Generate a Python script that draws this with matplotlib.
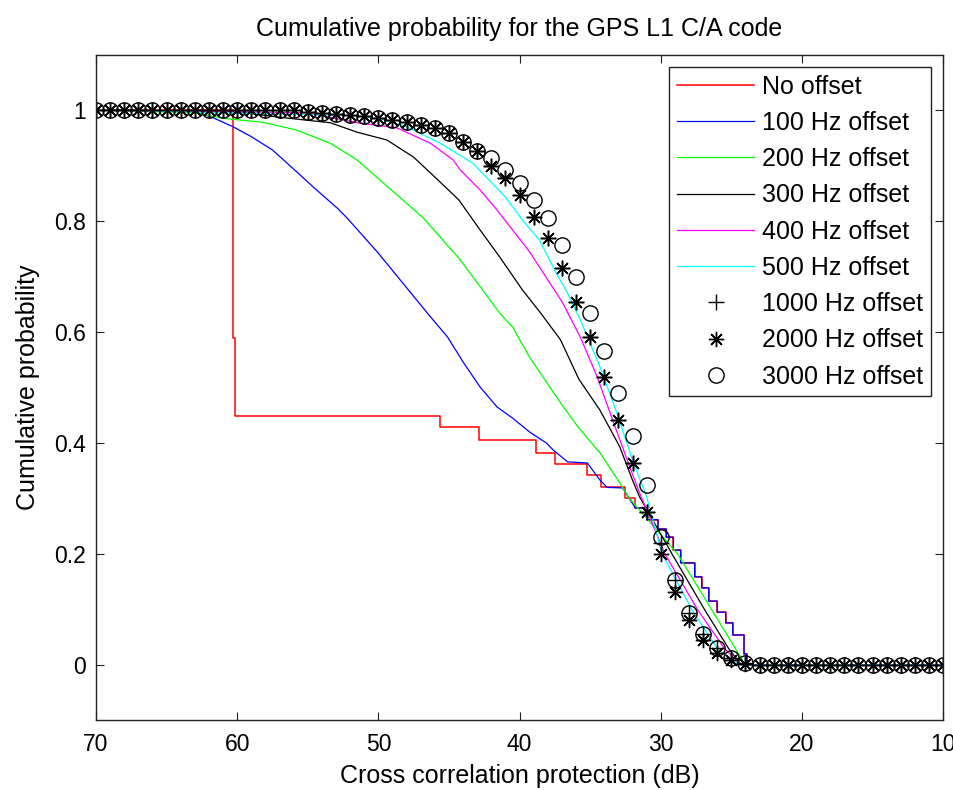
import numpy as np
import matplotlib
matplotlib.use('Agg')
import matplotlib.pyplot as plt

plt.rcParams['font.family'] = ['Liberation Sans', 'DejaVu Sans']

# no offset: staircase, each level holds from its dB value down to the next one
red_db = [70, 60.3, 60.15, 45.6, 42.9, 38.8, 37.5, 35.2, 34.2, 32.5, 31.8, 31.0,
          30.2, 29.6, 29.1, 28.6, 27.6, 27.1, 26.6, 26.0, 25.4, 24.9, 24.1, 23.9, 10]
red_p = [1.0, 0.589, 0.449, 0.428, 0.405, 0.382, 0.362, 0.342, 0.32, 0.30, 0.283, 0.262,
         0.245, 0.23, 0.207, 0.184, 0.159, 0.139, 0.115, 0.095, 0.076, 0.054, 0.02, 0.0, 0.0]

# 100 Hz: smooth part, the tail below 32 dB follows the same steps as the red one
blue_db = [70, 63, 61.7, 60.3, 59, 57.5, 55.8, 54.6, 52.9, 52.2, 50, 47.3, 46.3, 45.1, 44.0,
           42.8, 41.6, 40.5, 39.3, 38.1, 37.6, 36.6, 35.2, 34.3, 33.8, 32.7, 32.3]
blue_p = [1.0, 0.998, 0.986, 0.97, 0.952, 0.928, 0.889, 0.861, 0.823, 0.805, 0.742, 0.658,
          0.627, 0.591, 0.546, 0.501, 0.465, 0.445, 0.42, 0.40, 0.387, 0.366, 0.364, 0.333,
          0.32, 0.319, 0.303]

green_db = [70, 63, 61, 58.2, 55.8, 53.4, 51.5, 49.9, 48.0, 46.8, 44.2, 42.1, 41.4, 40.5,
            39.3, 38.1, 36.9, 35.8, 34.3, 32.9, 32.3, 30.0, 28.8, 26.4, 24.6, 24.0, 10]
green_p = [1.0, 0.995, 0.985, 0.978, 0.964, 0.94, 0.91, 0.874, 0.832, 0.805, 0.73, 0.658,
           0.634, 0.609, 0.555, 0.51, 0.465, 0.427, 0.382, 0.328, 0.303, 0.235, 0.2, 0.1,
           0.025, 0.0, 0.0]

black_db = [70, 60, 57, 53.4, 51.5, 49.4, 47.5, 45.7, 44.3, 42.8, 41.4, 39.8, 38.5, 37.1,
            35.8, 34.3, 32.9, 32.0, 31.5, 29.2, 26.9, 25.2, 24.3, 10]
black_p = [1.0, 0.997, 0.987, 0.977, 0.96, 0.946, 0.915, 0.872, 0.838, 0.784, 0.735, 0.676,
           0.634, 0.586, 0.515, 0.459, 0.393, 0.333, 0.303, 0.2, 0.1, 0.03, 0.0, 0.0]

magenta_db = [70, 55, 51.5, 48.7, 46.3, 44.7, 44.2, 42.8, 41.6, 40.5, 39.3, 38.0, 37.0,
              35.7, 34.5, 33.4, 32.2, 31.5, 29.7, 27.4, 25.5, 24.5, 24.2, 10]
magenta_p = [1.0, 0.995, 0.977, 0.968, 0.94, 0.91, 0.892, 0.856, 0.82, 0.784, 0.745, 0.694,
             0.655, 0.591, 0.519, 0.441, 0.357, 0.31, 0.2, 0.1, 0.03, 0.005, 0.0, 0.0]

cyan_db = [70, 52, 50, 48, 45.6, 43.3, 41.0, 39.8, 38.6, 37.4, 36.6, 35.7, 34.3, 33.1,
           32.0, 31.0, 29.9, 27.8, 26.0, 25.0, 24.3, 10]
cyan_p = [1.0, 0.99, 0.985, 0.97, 0.94, 0.904, 0.843, 0.802, 0.766, 0.706, 0.67, 0.622,
          0.537, 0.454, 0.369, 0.303, 0.2, 0.1, 0.03, 0.008, 0.0, 0.0]

# marker series sampled every 1 dB, 70 dB down to 10 dB
mark_db = list(range(70, 9, -1))
p1000 = [1.0] * 15 + [0.996, 0.995, 0.993, 0.991, 0.989, 0.985, 0.982, 0.978, 0.973, 0.967,
                      0.959, 0.943, 0.927, 0.90, 0.877, 0.847, 0.807, 0.77, 0.715, 0.654,
                      0.591, 0.519, 0.441, 0.364, 0.276, 0.22, 0.153, 0.094, 0.055, 0.03,
                      0.012, 0.003] + [0.0] * 14
p2000 = [1.0] * 15 + [0.996, 0.995, 0.993, 0.991, 0.989, 0.985, 0.982, 0.978, 0.973, 0.967,
                      0.959, 0.943, 0.927, 0.90, 0.877, 0.847, 0.807, 0.77, 0.715, 0.654,
                      0.591, 0.519, 0.441, 0.364, 0.276, 0.2, 0.132, 0.081, 0.045, 0.021,
                      0.009, 0.002] + [0.0] * 14
p3000 = [1.0] * 15 + [0.996, 0.995, 0.993, 0.991, 0.989, 0.985, 0.982, 0.978, 0.973, 0.967,
                      0.959, 0.943, 0.927, 0.913, 0.892, 0.868, 0.838, 0.806, 0.757, 0.70,
                      0.634, 0.566, 0.49, 0.412, 0.324, 0.23, 0.153, 0.094, 0.055, 0.03,
                      0.012, 0.003] + [0.0] * 14


def stairs(xs, ys):
    # corner points of a step line (level kept until the next x)
    sx = np.repeat(xs, 2)[1:]
    sy = np.repeat(ys, 2)[:-1]
    return sx, sy


rx, ry = stairs(red_db, red_p)
tail = np.array(red_db) < 32.4
tx, ty = stairs(np.array(red_db)[tail], np.array(red_p)[tail])
bx = np.concatenate([blue_db, tx])
by = np.concatenate([blue_p, ty])

fs = 18
tfs = 16.5
fig = plt.figure(figsize=(9.54, 7.90), dpi=100)
ax = fig.add_axes([0.1006, 0.088, 0.888, 0.843])

ax.plot(rx, ry, color='#ff0000', lw=1.1, label='No offset')
ax.plot(bx, by, color='#0000ff', lw=0.9, label='100 Hz offset')
ax.plot(green_db, green_p, color='#00ff00', lw=0.9, label='200 Hz offset')
ax.plot(black_db, black_p, color='black', lw=0.9, label='300 Hz offset')
ax.plot(magenta_db, magenta_p, color='#ff00ff', lw=0.9, label='400 Hz offset')
ax.plot(cyan_db, cyan_p, color='#00ffff', lw=0.9, label='500 Hz offset')
ax.plot(mark_db, p1000, ls='none', marker='+', ms=11, mew=1.0, color='black',
        label='1000 Hz offset')
ax.plot(mark_db, p2000, ls='none', marker=(8, 2, 0), ms=11, mew=1.0, color='black',
        label='2000 Hz offset')
ax.plot(mark_db, p3000, ls='none', marker='o', ms=11, mew=1.0, mfc='none', mec='black',
        label='3000 Hz offset')

ax.set_xlim(70, 10)
ax.set_ylim(-0.1, 1.1)
ax.set_xticks([70, 60, 50, 40, 30, 20, 10])
ax.set_yticks([0, 0.2, 0.4, 0.6, 0.8, 1])
ax.set_yticklabels(['0', '0.2', '0.4', '0.6', '0.8', '1'])
ax.tick_params(direction='in', top=True, right=True, length=6, width=0.8,
               labelsize=tfs, color='#222222')
ax.tick_params(axis='x', pad=9)
ax.tick_params(axis='y', pad=7)
for s in ax.spines.values():
    s.set_linewidth(1.0)
    s.set_color('#222222')

ax.set_title('Cumulative probability for the GPS L1 C/A code', fontsize=fs, pad=13)
ax.set_xlabel('Cross correlation protection (dB)', fontsize=fs, labelpad=6)
ax.set_ylabel('Cumulative probability', fontsize=fs, labelpad=10)

leg = ax.legend(loc='upper right', fontsize=fs, handlelength=3.1, numpoints=1,
                fancybox=False, framealpha=1, edgecolor='#222222',
                labelspacing=0.49, borderaxespad=0.5, handletextpad=0.3,
                borderpad=0.3)
leg.get_frame().set_linewidth(1.0)

fig.savefig('out.png', dpi=100)
